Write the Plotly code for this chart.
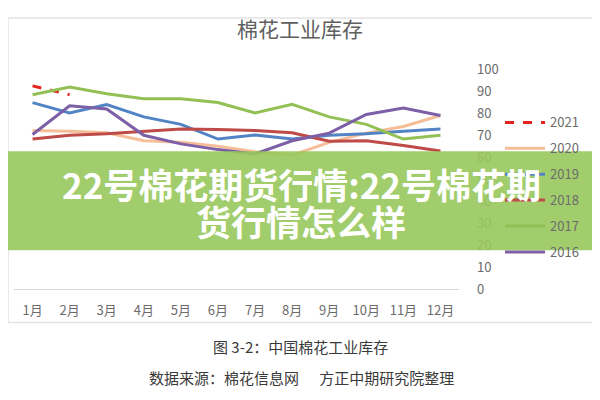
import plotly.graph_objects as go

months = ["1月", "2月", "3月", "4月", "5月", "6月", "7月", "8月", "9月", "10月", "11月", "12月"]
y2021 = [92.5, 88.5]
y2020 = [72.2, 71.9, 71.2, 67.5, 66.8, 65.0, 62.5, 61.0, 66.8, 71.0, 74.0, 79.0]
y2019 = [84.9, 80.2, 84.0, 78.4, 75.0, 68.3, 70.1, 68.3, 70.0, 70.7, 71.9, 72.9]
y2018 = [68.3, 70.0, 70.7, 71.9, 72.9, 72.6, 72.2, 71.2, 67.3, 67.5, 65.4, 62.9]
y2017 = [88.5, 92.0, 88.9, 86.6, 86.6, 84.9, 80.2, 84.1, 78.4, 75.0, 68.3, 70.0]
y2016 = [70.4, 83.4, 82.0, 70.0, 66.1, 63.5, 61.5, 67.5, 71.0, 79.5, 82.4, 79.0]
y_ticks = [0, 10, 20, 30, 40, 50, 60, 70, 80, 90, 100]

series = [
    ("2021", y2021, "#E3241F", "dash"),
    ("2020", y2020, "#F6BE98", "solid"),
    ("2019", y2019, "#5283C4", "solid"),
    ("2018", y2018, "#BE4B48", "solid"),
    ("2017", y2017, "#92C055", "solid"),
    ("2016", y2016, "#7C5FA6", "solid"),
]

fig = go.Figure()
for name, vals, color, dash in series:
    fig.add_trace(go.Scatter(
        x=months[:len(vals)], y=vals, mode="lines", name=name,
        legendgroup=name,
        line=dict(color=color, width=3, dash="dash" if dash == "dash" else "solid"),
    ))

# the page body adds an 8px margin; compensate so page coords match the reference
OFF = 8
W, H = 600 - OFF, 400 - OFF
def px(x):
    return (x - OFF) / W
def py(y):
    return (H - (y - OFF)) / H

fig.update_layout(
    width=W, height=H,
    margin=dict(l=0, r=0, t=0, b=0),
    paper_bgcolor="white", plot_bgcolor="white",
    showlegend=True,
    font=dict(family="Noto Sans CJK SC, Noto Sans, sans-serif", color="#6b6b6b", size=13),
    xaxis=dict(
        domain=[px(14), px(459)],
        type="category",
        categoryorder="array", categoryarray=months,
        range=[-0.5, 11.5],
        showgrid=False, zeroline=False,
        showline=True, linecolor="#D9D9D9", linewidth=1,
        ticks="", tickfont=dict(size=13, color="#6b6b6b"),
        ticklabelstandoff=9,
        fixedrange=True,
    ),
    yaxis=dict(
        domain=[py(293), py(62)],
        range=[0, 100],
        side="right",
        tickvals=y_ticks,
        showgrid=False, zeroline=False, showline=False,
        ticks="", tickfont=dict(size=13, color="#6b6b6b"),
        ticklabelstandoff=17,
        fixedrange=True,
    ),
    legend=dict(
        x=px(500), y=py(102), xanchor="left", yanchor="top",
        font=dict(size=13, color="#6b6b6b"),
        tracegroupgap=6,
        bgcolor="rgba(0,0,0,0)",
        itemwidth=40,
    ),
    title=dict(
        text="棉花工业库存", x=px(300), xanchor="center",
        y=py(30), yanchor="middle",
        font=dict(size=21, color="#5f5f5f"),
    ),
)

# chart frame
fig.add_shape(type="rect", xref="paper", yref="paper",
              x0=px(8), x1=px(597), y0=py(328), y1=py(8),
              line=dict(color="#E3E3E3", width=1.5), layer="below")

# captions
fig.add_annotation(text="图 3-2：中国棉花工业库存", xref="paper", yref="paper",
                   x=px(300), y=py(353), xanchor="center", yanchor="middle",
                   showarrow=False, font=dict(size=15, color="#3a3a3a"))
fig.add_annotation(text="数据来源：棉花信息网      方正中期研究院整理", xref="paper", yref="paper",
                   x=px(301), y=py(386), xanchor="center", yanchor="middle",
                   showarrow=False, font=dict(size=15, color="#3a3a3a"))

# banner overlay
fig.add_shape(type="rect", xref="paper", yref="paper",
              x0=0, x1=1, y0=py(252), y1=py(148),
              fillcolor="rgba(152,200,92,0.9)", line=dict(width=0), layer="above")
fig.add_annotation(text="<b>22号棉花期货行情:22号棉花期</b>", xref="paper", yref="paper",
                   x=px(301), y=py(182), xanchor="center", yanchor="middle",
                   showarrow=False,
                   font=dict(size=35, color="white", family="Noto Sans CJK SC"))
fig.add_annotation(text="<b>货行情怎么样</b>", xref="paper", yref="paper",
                   x=px(301), y=py(221), xanchor="center", yanchor="middle",
                   showarrow=False,
                   font=dict(size=35, color="white", family="Noto Sans CJK SC"))

fig.write_html("out.html")
